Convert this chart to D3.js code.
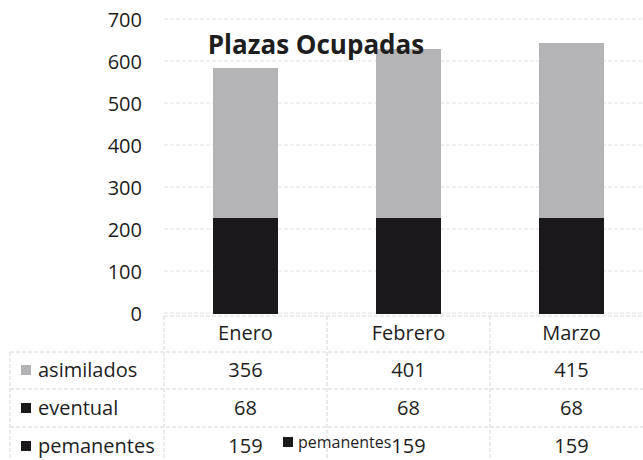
<!DOCTYPE html>
<html>
<head>
<meta charset="utf-8">
<script src="https://cdn.jsdelivr.net/npm/d3@7"></script>
<style>
  body { margin: 0; background: #fff; }
  svg text { font-family: "Open Sans", sans-serif; fill: #1e1e1e; }
</style>
</head>
<body>
<div id="chart"></div>
<script>
// Data
var categories = ["Enero", "Febrero", "Marzo"];
var seriesNames = ["asimilados", "eventual", "pemanentes"];
var asimilados = [356, 401, 415];
var eventual = [68, 68, 68];
var pemanentes = [159, 159, 159];
var yTicks = [0, 100, 200, 300, 400, 500, 600, 700];

var colors = { asimilados: "#b4b3b6", eventual: "#1a181a", pemanentes: "#1a181a" };

var width = 643, height = 460;
var svg = d3.select("#chart").append("svg")
    .attr("width", width)
    .attr("height", height);

// Scales
var x = d3.scaleBand()
    .domain(categories)
    .range([164, 653])
    .paddingInner(0.6)
    .paddingOuter(0.3);

var y = d3.scaleLinear()
    .domain([0, 700])
    .range([313, 19]);

// Gridlines
svg.append("g")
    .selectAll("line")
    .data(yTicks)
    .enter().append("line")
    .attr("x1", 164).attr("x2", 653)
    .attr("y1", function(d) { return y(d); })
    .attr("y2", function(d) { return y(d); })
    .attr("stroke", "#e0e0e0")
    .attr("stroke-dasharray", "4,2");

// Y axis labels
var yAxis = d3.axisLeft(y).tickValues(yTicks).tickSize(0).tickPadding(0);
var gy = svg.append("g")
    .attr("transform", "translate(142,0)")
    .call(yAxis);
gy.select(".domain").remove();
gy.selectAll("text")
    .attr("font-size", 20)
    .attr("dy", "0.35em")
    .style("font-family", "Open Sans, sans-serif")
    .attr("fill", "#1e1e1e");

// Stacked bars
var rows = categories.map(function(c, i) {
    return { cat: c, pemanentes: pemanentes[i], eventual: eventual[i], asimilados: asimilados[i] };
});
var stack = d3.stack().keys(["pemanentes", "eventual", "asimilados"]);
var layers = stack(rows);

svg.append("g")
    .attr("shape-rendering", "crispEdges")
    .selectAll("g")
    .data(layers)
    .enter().append("g")
    .attr("fill", function(d) { return colors[d.key]; })
    .selectAll("rect")
    .data(function(d) { return d; })
    .enter().append("rect")
    .attr("x", function(d) { return x(d.data.cat); })
    .attr("width", x.bandwidth())
    .attr("y", function(d) { return y(d[1]); })
    .attr("height", function(d) { return y(d[0]) - y(d[1]) + 0.5; });

// Title
svg.append("text")
    .attr("x", 316)
    .attr("y", 54)
    .attr("text-anchor", "middle")
    .attr("font-size", 26)
    .attr("font-weight", "bold")
    .attr("fill", "#111")
    .text("Plazas Ocupadas");

// Data table
var tableLine = "#d6d6d6";
var step = x.step();
var colEdges = [164, 164 + step, 164 + 2 * step, 164 + 3 * step];
var rowLines = [352, 389, 427, 464];
var rowCenters = [370, 408, 446];
var tbl = svg.append("g");

// header top line (axis)
tbl.append("line")
    .attr("x1", 164).attr("x2", 653)
    .attr("y1", 316).attr("y2", 316)
    .attr("stroke", tableLine).attr("stroke-dasharray", "4,2");

tbl.selectAll(".hline")
    .data(rowLines)
    .enter().append("line")
    .attr("x1", 10).attr("x2", 653)
    .attr("y1", function(d) { return d; })
    .attr("y2", function(d) { return d; })
    .attr("stroke", tableLine).attr("stroke-dasharray", "4,2");

tbl.selectAll(".vline")
    .data(colEdges)
    .enter().append("line")
    .attr("x1", function(d) { return d; })
    .attr("x2", function(d) { return d; })
    .attr("y1", 316).attr("y2", 464)
    .attr("stroke", tableLine).attr("stroke-dasharray", "4,2");

tbl.append("line")
    .attr("x1", 10).attr("x2", 10)
    .attr("y1", 352).attr("y2", 464)
    .attr("stroke", tableLine).attr("stroke-dasharray", "4,2");

// Category labels
tbl.selectAll(".cat")
    .data(categories)
    .enter().append("text")
    .attr("x", function(d) { return x(d) + x.bandwidth() / 2; })
    .attr("y", 333)
    .attr("dy", "0.35em")
    .attr("text-anchor", "middle")
    .attr("font-size", 20)
    .text(function(d) { return d; });

// Row labels with keys
var seriesValues = { asimilados: asimilados, eventual: eventual, pemanentes: pemanentes };
seriesNames.forEach(function(name, r) {
    var cy = rowCenters[r];
    tbl.append("rect")
        .attr("x", 21).attr("y", cy - 5)
        .attr("width", 10).attr("height", 10)
        .attr("fill", colors[name]);
    tbl.append("text")
        .attr("x", 38).attr("y", cy)
        .attr("dy", "0.35em")
        .attr("font-size", 20)
        .text(name);
    tbl.selectAll(".v" + r)
        .data(seriesValues[name])
        .enter().append("text")
        .attr("x", function(d, i) { return x(categories[i]) + x.bandwidth() / 2; })
        .attr("y", cy)
        .attr("dy", "0.35em")
        .attr("text-anchor", "middle")
        .attr("font-size", 20)
        .text(function(d) { return d; });
});

// Stray legend entry inside the table
tbl.append("rect")
    .attr("x", 283).attr("y", 437)
    .attr("width", 10).attr("height", 10)
    .attr("fill", colors.pemanentes);
tbl.append("text")
    .attr("x", 298).attr("y", 442)
    .attr("dy", "0.35em")
    .attr("font-size", 16)
    .text("pemanentes");
</script>
</body>
</html>
